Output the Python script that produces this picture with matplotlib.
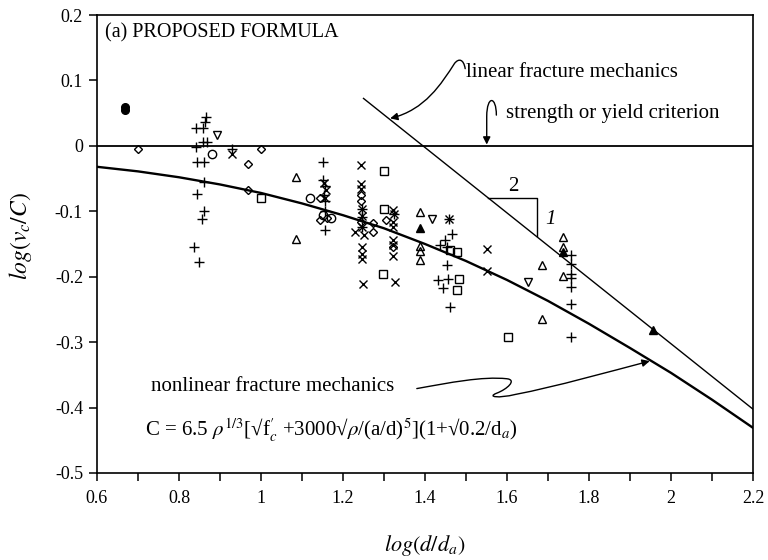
import matplotlib
matplotlib.use('Agg')
import matplotlib.pyplot as plt
from matplotlib.path import Path
from matplotlib.patches import FancyArrowPatch

plt.rcParams['font.family'] = ['Liberation Serif', 'DejaVu Serif']
plt.rcParams['mathtext.fontset'] = 'stix'

# ---- datos: x = log(d/da), y = log(vc/C)
plus_x = [0.841, 0.858, 0.868, 0.841, 0.858, 0.863, 0.865, 0.845, 0.862, 0.861, 0.845, 0.860, 0.857,
          0.837, 0.849, 0.930, 1.150, 1.150, 1.155, 1.153, 1.155, 1.155, 1.155, 1.246, 1.246, 1.246,
          1.325, 1.459, 1.465, 1.449, 1.437, 1.454, 1.454, 1.432, 1.457, 1.443, 1.461,
          1.756, 1.756, 1.756, 1.756, 1.756, 1.756, 1.756]
plus_y = [-0.002, 0.006, 0.006, 0.028, 0.028, 0.036, 0.044, -0.024, -0.024, -0.055, -0.074, -0.099, -0.112,
          -0.154, -0.177, -0.005, -0.025, -0.052, -0.062, -0.075, -0.085, -0.100, -0.128, -0.096, -0.108, -0.124,
          -0.104, -0.112, -0.134, -0.144, -0.152, -0.154, -0.182, -0.205, -0.203, -0.218, -0.246,
          -0.167, -0.180, -0.196, -0.202, -0.215, -0.242, -0.292]

cross_x = [0.930, 1.153, 1.158, 1.155, 1.244, 1.244, 1.244, 1.246, 1.246, 1.246, 1.229, 1.250, 1.246, 1.246,
           1.246, 1.248, 1.323, 1.325, 1.323, 1.323, 1.323, 1.323, 1.323, 1.327, 1.459, 1.550, 1.550]
cross_y = [-0.013, -0.057, -0.068, -0.080, -0.030, -0.058, -0.066, -0.096, -0.107, -0.124, -0.132, -0.136, -0.155,
           -0.165, -0.173, -0.211, -0.098, -0.104, -0.116, -0.124, -0.144, -0.152, -0.168, -0.208, -0.112, -0.158,
           -0.192]

diam_x = [0.699, 0.969, 0.999, 0.969, 1.145, 1.145, 1.160, 1.244, 1.244, 1.244, 1.272, 1.272, 1.305, 1.323]
diam_y = [-0.005, -0.028, -0.005, -0.068, -0.080, -0.114, -0.110, -0.075, -0.085, -0.116, -0.118, -0.132,
          -0.114, -0.154]

circ_x = [0.880, 1.120, 1.150, 1.170]
circ_y = [-0.013, -0.080, -0.106, -0.110]

dot_x = [0.668, 0.668]
dot_y = [0.060, 0.055]

sq_x = [0.999, 1.300, 1.300, 1.298, 1.461, 1.479, 1.484, 1.477, 1.602]
sq_y = [-0.079, -0.039, -0.096, -0.196, -0.159, -0.163, -0.204, -0.220, -0.292]

tri_x = [1.086, 1.086, 1.388, 1.388, 1.388, 1.388, 1.686, 1.686, 1.736, 1.736, 1.736]
tri_y = [-0.048, -0.143, -0.101, -0.153, -0.160, -0.175, -0.182, -0.265, -0.140, -0.155, -0.199]

tri_fill_x = [1.388, 1.736, 1.957]
tri_fill_y = [-0.126, -0.163, -0.282]

trid_x = [0.892, 1.418, 1.650]
trid_y = [0.017, -0.112, -0.208]

# curva de mecanica de fractura no lineal
curva_x = [0.6, 0.7, 0.8, 0.9, 1.0, 1.1, 1.2, 1.3, 1.4, 1.5, 1.6, 1.7, 1.8, 1.9, 2.0, 2.1, 2.2]
curva_y = [-0.032, -0.039, -0.048, -0.059, -0.072, -0.088, -0.106, -0.126, -0.150, -0.176, -0.205,
           -0.237, -0.272, -0.309, -0.347, -0.388, -0.431]

# recta de mecanica de fractura lineal (pendiente -1/2) y criterio de resistencia
lineal_x = [1.25, 2.2]
lineal_y = [0.0725, -0.4025]
resist_x = [0.6, 2.2]
resist_y = [0.0, 0.0]

xtick_vals = [0.6, 0.8, 1.0, 1.2, 1.4, 1.6, 1.8, 2.0, 2.2]
xtick_labels = ['0.6', '0.8', '1', '1.2', '1.4', '1.6', '1.8', '2', '2.2']
xminor_vals = [0.7, 0.9, 1.1, 1.3, 1.5, 1.7, 1.9, 2.1]
ytick_vals = [0.2, 0.1, 0.0, -0.1, -0.2, -0.3, -0.4, -0.5]
ytick_labels = ['0.2', '0.1', '0', '-0.1', '-0.2', '-0.3', '-0.4', '-0.5']

fig = plt.figure(figsize=(7.68, 5.6), dpi=100)
ax = fig.add_axes([0.1263, 0.1554, 0.8542, 0.8178])

# lineas teoricas
ax.plot(resist_x, resist_y, color='k', lw=1.3)
ax.plot(lineal_x, lineal_y, color='k', lw=1.0)
ax.plot(curva_x, curva_y, color='k', lw=1.7)

# puntos experimentales
est = dict(linestyle='none', color='k', mfc='none', mew=1.0)
ax.plot(plus_x, plus_y, marker='+', ms=6.5, **est)
ax.plot(cross_x, cross_y, marker='x', ms=5.5, **est)
ax.plot(diam_x, diam_y, marker='D', ms=4, **est)
ax.plot(circ_x, circ_y, marker='o', ms=6, **est)
ax.plot(sq_x, sq_y, marker='s', ms=5.5, **est)
ax.plot(tri_x, tri_y, marker='^', ms=5.5, **est)
ax.plot(trid_x, trid_y, marker='v', ms=5.5, **est)
ax.plot(dot_x, dot_y, marker='o', ms=5.5, linestyle='none', color='k')
ax.plot(tri_fill_x, tri_fill_y, marker='^', ms=5.5, linestyle='none', color='k')

# triangulo de pendiente 2:1
ax.plot([1.554, 1.672, 1.672], [-0.0795, -0.0795, -0.1385], color='k', lw=1.0)
ax.text(1.615, -0.062, '2', fontsize=15, ha='center', va='center')
ax.text(1.705, -0.112, '1', fontsize=15, ha='center', va='center', style='italic')

# flechas de las etiquetas
C3 = Path.CURVE4
p1 = Path([(1.498, 0.118), (1.494, 0.133), (1.482, 0.134), (1.472, 0.126),
           (1.44, 0.095), (1.40, 0.055), (1.315, 0.042)],
          [Path.MOVETO, C3, C3, C3, C3, C3, C3])
p2 = Path([(1.574, 0.047), (1.574, 0.076), (1.551, 0.078), (1.5505, 0.045), (1.5505, 0.002)],
          [Path.MOVETO, C3, C3, C3, Path.LINETO])
p3 = Path([(1.38, -0.371), (1.46, -0.362), (1.54, -0.352), (1.60, -0.356),
           (1.625, -0.358), (1.60, -0.372), (1.575, -0.378),
           (1.55, -0.384), (1.58, -0.386), (1.62, -0.380),
           (1.72, -0.368), (1.85, -0.345), (1.948, -0.329)],
          [Path.MOVETO, C3, C3, C3, C3, C3, C3, C3, C3, C3, C3, C3, C3])
for p in [p1, p2, p3]:
    ax.add_patch(FancyArrowPatch(path=p, arrowstyle='-|>', mutation_scale=11, color='k', lw=1.0))

# textos
ax.text(0.62, 0.1725, '(a) PROPOSED FORMULA', fontsize=14.5, va='center')
ax.text(1.50, 0.112, 'linear fracture mechanics', fontsize=15, va='center')
ax.text(1.598, 0.050, 'strength or yield criterion', fontsize=15, va='center')
ax.text(0.731, -0.368, 'nonlinear fracture mechanics', fontsize=15, va='center')
ax.text(0.716, -0.435,
        'C = 6.5 $\\rho^{1/3}$[√f$^{\\prime}_{c}$ +3000√$\\rho$/(a/d)$^{5}$](1+√0.2/d$_{a}$)',
        fontsize=15, va='center')

ax.set_xlim(0.6, 2.2)
ax.set_ylim(-0.5, 0.2)
ax.set_xticks(xtick_vals)
ax.set_xticklabels(xtick_labels)
ax.set_xticks(xminor_vals, minor=True)
ax.set_yticks(ytick_vals)
ax.set_yticklabels(ytick_labels)
ax.tick_params(axis='both', which='both', direction='out', length=6, width=1.1, labelsize=13)
ax.tick_params(axis='x', pad=6)
ax.tick_params(axis='y', pad=4)
for s in ax.spines.values():
    s.set_linewidth(1.2)

ax.set_xlabel(r'$log(d/d_a)$', fontsize=16, va='center')
ax.xaxis.set_label_coords(0.5, -0.158)
ax.set_ylabel(r'$log(v_c/C)$', fontsize=17, va='center')
ax.yaxis.set_label_coords(-0.117, 0.517)

fig.savefig('out.png', dpi=100)
